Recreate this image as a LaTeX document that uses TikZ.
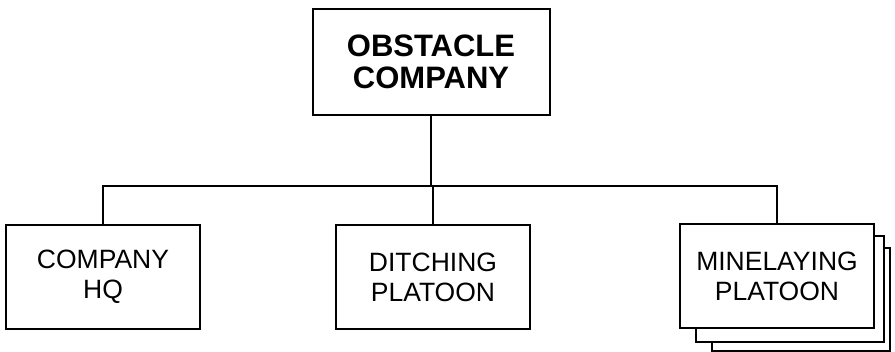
\documentclass[tikz,border=0pt]{standalone}
\usepackage{fontspec}
\setmainfont{Liberation Sans}
\begin{document}
\begin{tikzpicture}[x=1pt,y=-1pt,
  unitbox/.style={draw,line width=2pt,fill=white,align=center,inner sep=0pt,
    minimum width=194pt,minimum height=104pt,font=\fontsize{26.5}{30}\selectfont},
  topbox/.style={draw,line width=2pt,fill=white,align=center,inner sep=0pt,
    minimum width=237pt,minimum height=106pt,font=\bfseries\fontsize{31}{32}\selectfont},
  link/.style={line width=2.2pt},
  backbox/.style={draw,line width=2pt,fill=white}]
\useasboundingbox (0,0) rectangle (895,352);
\coordinate (bus) at (0,186);
\node[topbox] (top) at (431,62) {OBSTACLE\\COMPANY};
\node[unitbox] (hq) at (103,277) {COMPANY\\HQ};
\node[unitbox] (ditch) at (433,277) {DITCHING\\PLATOON};
\draw[backbox] (712,248) rectangle (890,351);
\draw[backbox] (696,236) rectangle (884,342);
\node[unitbox] (mine) at (777,276) {MINELAYING\\PLATOON};
\draw[link] (top.south) -- (top.south |- bus);
\draw[link] (hq.north) -- (hq.north |- bus) -- (mine.north |- bus) -- (mine.north);
\draw[link] (ditch.north) -- (ditch.north |- bus);
\end{tikzpicture}
\end{document}
